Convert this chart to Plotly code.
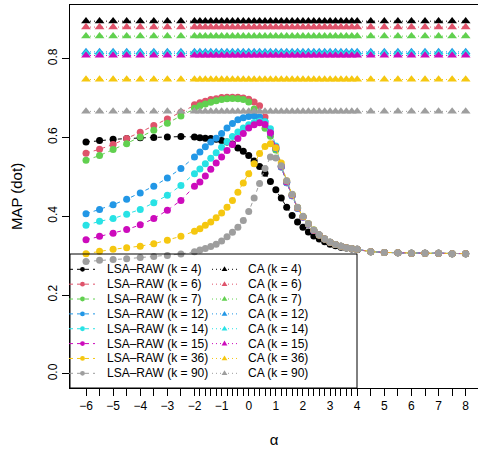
import plotly.graph_objects as go

# ---------------- data ----------------
alpha = [-6, -5.5, -5, -4.5, -4, -3.5, -3, -2.5,
         -2, -1.8, -1.6, -1.4, -1.2, -1, -0.8, -0.6, -0.4, -0.2,
         0, 0.2, 0.4, 0.6, 0.8, 1, 1.2, 1.4, 1.6, 1.8,
         2, 2.2, 2.4, 2.6, 2.8, 3, 3.2, 3.4, 3.6, 3.8, 4,
         4.5, 5, 5.5, 6, 6.5, 7, 7.5, 8]

k_values = [4, 6, 7, 12, 14, 15, 36, 90]
colors = ["#000000", "#DF536B", "#61D04F", "#2297E6",
          "#28E2E5", "#CD0BBC", "#F5C710", "#9E9E9E"]

lsa_k4 = [0.588, 0.592, 0.595, 0.597, 0.599, 0.600, 0.601, 0.602,
          0.601, 0.599, 0.598, 0.597, 0.595, 0.592, 0.588, 0.583, 0.573, 0.565,
          0.554, 0.540, 0.526, 0.509, 0.488, 0.467, 0.446, 0.423, 0.402, 0.385,
          0.372, 0.360, 0.350, 0.342, 0.335, 0.329, 0.325, 0.321, 0.319, 0.317, 0.315,
          0.310, 0.308, 0.307, 0.306, 0.306, 0.306, 0.305, 0.305]
lsa_k6 = [0.560, 0.570, 0.582, 0.597, 0.613, 0.630, 0.647, 0.664,
          0.683, 0.688, 0.692, 0.696, 0.698, 0.701, 0.702, 0.702, 0.702, 0.700,
          0.697, 0.690, 0.680, 0.652, 0.612, 0.570, 0.525, 0.485, 0.452, 0.420,
          0.398, 0.380, 0.364, 0.352, 0.342, 0.334, 0.328, 0.324, 0.320, 0.318, 0.316,
          0.310, 0.308, 0.307, 0.306, 0.306, 0.306, 0.305, 0.305]
lsa_k7 = [0.542, 0.554, 0.569, 0.584, 0.601, 0.618, 0.636, 0.654,
          0.674, 0.680, 0.685, 0.689, 0.693, 0.696, 0.698, 0.699, 0.698, 0.696,
          0.690, 0.672, 0.648, 0.623, 0.603, 0.568, 0.528, 0.488, 0.455, 0.422,
          0.399, 0.381, 0.365, 0.352, 0.342, 0.334, 0.328, 0.324, 0.320, 0.318, 0.316,
          0.310, 0.308, 0.307, 0.306, 0.306, 0.306, 0.305, 0.305]
lsa_k12 = [0.406, 0.417, 0.429, 0.443, 0.459, 0.476, 0.497, 0.521,
           0.550, 0.563, 0.576, 0.588, 0.598, 0.610, 0.624, 0.635, 0.645, 0.650,
           0.653, 0.655, 0.652, 0.640, 0.612, 0.572, 0.525, 0.485, 0.452, 0.420,
           0.398, 0.380, 0.364, 0.352, 0.342, 0.334, 0.328, 0.324, 0.320, 0.318, 0.316,
           0.310, 0.308, 0.307, 0.306, 0.306, 0.306, 0.305, 0.305]
lsa_k14 = [0.377, 0.387, 0.394, 0.405, 0.417, 0.434, 0.453, 0.478,
           0.508, 0.520, 0.533, 0.547, 0.561, 0.575, 0.589, 0.602, 0.614, 0.624,
           0.632, 0.638, 0.641, 0.640, 0.622, 0.578, 0.526, 0.486, 0.452, 0.420,
           0.398, 0.380, 0.364, 0.352, 0.342, 0.334, 0.328, 0.324, 0.320, 0.318, 0.316,
           0.310, 0.308, 0.307, 0.306, 0.306, 0.306, 0.305, 0.305]
lsa_k15 = [0.340, 0.349, 0.357, 0.366, 0.378, 0.394, 0.415, 0.440,
           0.476, 0.487, 0.502, 0.519, 0.535, 0.550, 0.567, 0.582, 0.597, 0.610,
           0.624, 0.632, 0.637, 0.633, 0.612, 0.575, 0.527, 0.487, 0.453, 0.421,
           0.398, 0.380, 0.364, 0.352, 0.342, 0.334, 0.328, 0.324, 0.320, 0.318, 0.316,
           0.310, 0.308, 0.307, 0.306, 0.306, 0.306, 0.305, 0.305]
lsa_k36 = [0.305, 0.311, 0.316, 0.320, 0.324, 0.330, 0.339, 0.349,
           0.362, 0.368, 0.377, 0.385, 0.396, 0.408, 0.423, 0.440, 0.461, 0.484,
           0.508, 0.533, 0.559, 0.577, 0.584, 0.574, 0.535, 0.490, 0.455, 0.422,
           0.399, 0.381, 0.365, 0.352, 0.342, 0.334, 0.328, 0.324, 0.320, 0.318, 0.316,
           0.310, 0.308, 0.307, 0.306, 0.306, 0.306, 0.305, 0.305]
lsa_k90 = [0.285, 0.288, 0.290, 0.292, 0.295, 0.298, 0.300, 0.304,
           0.310, 0.314, 0.318, 0.323, 0.329, 0.337, 0.348, 0.359, 0.372, 0.389,
           0.412, 0.446, 0.483, 0.521, 0.550, 0.548, 0.528, 0.490, 0.456, 0.423,
           0.400, 0.381, 0.365, 0.353, 0.342, 0.334, 0.328, 0.324, 0.320, 0.318, 0.316,
           0.310, 0.308, 0.307, 0.306, 0.306, 0.306, 0.305, 0.305]
lsa_series = [lsa_k4, lsa_k6, lsa_k7, lsa_k12, lsa_k14, lsa_k15, lsa_k36, lsa_k90]

# CA does not depend on alpha: one MAP value per k
ca_map = [0.895, 0.880, 0.857, 0.817, 0.813, 0.808, 0.747, 0.666]

x_tick_labels = {-6: "\u22126", -5: "\u22125", -4: "\u22124", -3: "\u22123",
                 -2: "\u22122", -1: "\u22121", 0: "0", 1: "1", 2: "2", 3: "3",
                 4: "4", 5: "5", 6: "6", 7: "7", 8: "8"}
y_tick_vals = [0.0, 0.2, 0.4, 0.6, 0.8]
y_tick_text = ["0.0", "0.2", "0.4", "0.6", "0.8"]

# ---------------- figure ----------------
FONT = "Liberation Sans, Arial, sans-serif"
W, H = 478, 450
ML, MT, MR, MB = 70, 5, 0, 62
PW, PH = W - ML - MR, H - MT - MB

fig = go.Figure()
for k, c, ys in zip(k_values, colors, lsa_series):
    fig.add_trace(go.Scatter(
        x=alpha, y=ys, mode="lines+markers", name=f"LSA\u2013RAW (k = {k})",
        line=dict(color=c, width=1, dash="4px,4px"),
        marker=dict(symbol="circle", size=7, color=c),
        showlegend=False))
for k, c, v in zip(k_values, colors, ca_map):
    fig.add_trace(go.Scatter(
        x=alpha, y=[v] * len(alpha), mode="lines+markers", name=f"CA (k = {k})",
        line=dict(color=c, width=1, dash="1px,3px"),
        marker=dict(symbol="triangle-up", size=8.5, color=c),
        showlegend=False))

# ---- manual legend (two columns, drawn in paper coords) ----
def px(xp):
    return (xp - ML) / PW

def py(yp):
    return (MT + PH - yp) / PH

shapes = []
annotations = []
shapes.append(dict(type="rect", xref="paper", yref="paper",
                   x0=0, x1=px(357), y0=0, y1=py(254),
                   line=dict(color="black", width=1), fillcolor="rgba(0,0,0,0)"))
row0, drow = 269.3, 14.86
cols = [dict(seg=(69, 95), mk=82.5, tx=104.5, dash="4px,4px", kind="circle", label="LSA\u2013RAW"),
        dict(seg=(212, 237), mk=224.5, tx=245.5, dash="1px,3px", kind="tri", label="CA")]
for i, (k, c) in enumerate(zip(k_values, colors)):
    yy = py(row0 + i * drow)
    for col in cols:
        shapes.append(dict(type="line", xref="paper", yref="paper",
                           x0=px(col["seg"][0]), x1=px(col["seg"][1]), y0=yy, y1=yy,
                           line=dict(color=c, width=1, dash=col["dash"])))
        if col["kind"] == "circle":
            shapes.append(dict(type="circle", xref="paper", yref="paper",
                               xsizemode="pixel", ysizemode="pixel",
                               xanchor=px(col["mk"]), yanchor=yy,
                               x0=-2.4, x1=2.4, y0=-2.4, y1=2.4,
                               fillcolor=c, line=dict(color=c, width=0)))
        else:
            shapes.append(dict(type="path", xref="paper", yref="paper",
                               xsizemode="pixel", ysizemode="pixel",
                               xanchor=px(col["mk"]), yanchor=yy,
                               path="M-2.9,-1.8 L2.9,-1.8 L0,3.0 Z",
                               fillcolor=c, line=dict(color=c, width=0)))
        annotations.append(dict(xref="paper", yref="paper", x=px(col["tx"]), y=yy,
                                text=f"{col['label']} (k = {k})", showarrow=False,
                                xanchor="left", yanchor="middle",
                                font=dict(family=FONT, size=12, color="black")))

tickvals = alpha
ticktext = [x_tick_labels.get(a, "") if float(a).is_integer() else "" for a in alpha]

fig.update_layout(
    width=W, height=H,
    margin=dict(l=ML, r=MR, t=MT, b=MB, pad=0, autoexpand=False),
    paper_bgcolor="white", plot_bgcolor="white",
    font=dict(family=FONT, size=12, color="black"),
    showlegend=False,
    shapes=shapes, annotations=annotations,
    xaxis=dict(range=[-6.59, 8.454], tickmode="array", tickvals=tickvals,
               ticktext=ticktext, ticks="outside", ticklen=7, tickwidth=1,
               tickcolor="black", showline=True, mirror=True, linecolor="black",
               linewidth=1, showgrid=False, zeroline=False, automargin=False,
               tickfont=dict(family=FONT, size=12, color="black"),
               title=dict(text="\u03b1", font=dict(family=FONT, size=15, color="black"),
                          standoff=22)),
    yaxis=dict(range=[-0.036, 0.936], tickmode="array", tickvals=y_tick_vals,
               ticktext=y_tick_text, tickangle=-90, ticks="outside", ticklen=7,
               tickwidth=1, tickcolor="black", showline=True, mirror=False,
               linecolor="black", linewidth=1, showgrid=False, zeroline=False,
               automargin=False,
               tickfont=dict(family=FONT, size=12, color="black"),
               title=dict(text="MAP (dot)", font=dict(family=FONT, size=15, color="black"),
                          standoff=19)),
)

fig.write_html("out.html", config={"displayModeBar": False},
               post_script="document.body.style.margin='0';document.body.style.overflow='hidden';")
